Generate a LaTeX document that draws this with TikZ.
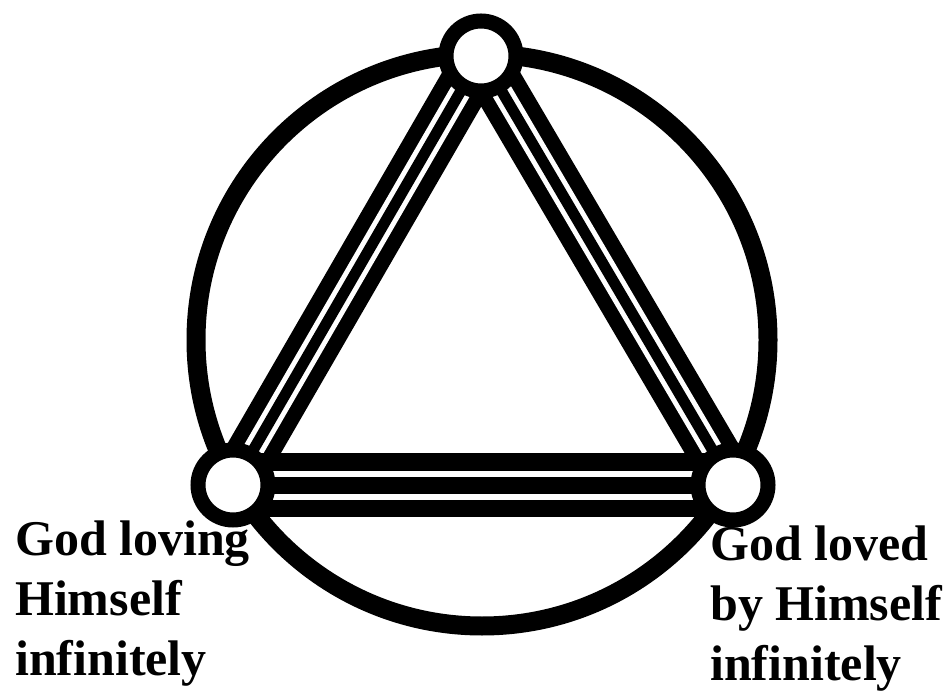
\documentclass[tikz,border=0pt]{standalone}
\usepackage{fontspec}
\setmainfont{Liberation Serif}
\usetikzlibrary{backgrounds}

\begin{document}
\begin{tikzpicture}[
    x=1pt, y=-1pt,
    vtx/.style={circle, draw, line width=15pt, fill=white, minimum size=70pt, inner sep=0pt},
    ring/.style={line width=19pt},
    band/.style={line width=#1, double=white},
    lbl/.style={font=\fontsize{50}{60}\selectfont\bfseries, align=left, inner sep=0pt, anchor=base west}
  ]
    \useasboundingbox (0,0) rectangle (948,692);
    \node[vtx] (top)   at (481,56)  {};
    \node[vtx] (left)  at (233,485) {};
    \node[vtx] (right) at (733,485) {};
    \coordinate (mid) at (482,340);
    \begin{scope}[on background layer]
      \draw[ring] (mid) circle[radius=286];
      % outer pair, then the middle line
      \draw[band=15pt, double distance=21pt] (top.center) -- (left.center);
      \draw[line width=11pt] (top.center) -- (left.center);
      \draw[band=15pt, double distance=21pt] (top.center) -- (right.center);
      \draw[line width=11pt] (top.center) -- (right.center);
      \draw[band=17pt, double distance=29pt] (left.center) -- (right.center);
      \draw[line width=17pt] (left.center) -- (right.center);
    \end{scope}
    \node[lbl] (loving) at (15,675) {God loving\\Himself\\infinitely};
    \node[lbl] (loved)  at (710,680) {God loved\\by Himself\\infinitely};
  \end{tikzpicture}
\end{document}
